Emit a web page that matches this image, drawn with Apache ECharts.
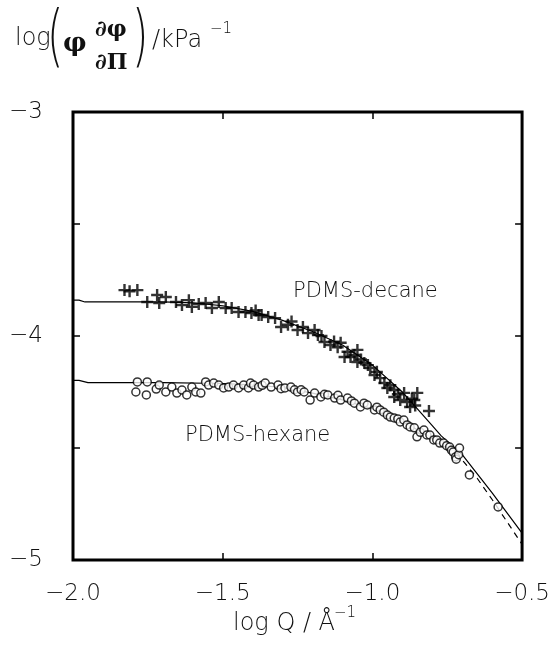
<!DOCTYPE html>
<html>
<head>
<meta charset="utf-8">
<script src="https://cdn.jsdelivr.net/npm/echarts@6/dist/echarts.min.js"></script>
<style>
html,body{margin:0;padding:0;background:#fff;}
#c{width:553px;height:657px;}
</style>
</head>
<body>
<div id="c"></div>
<script>
// ---- data ----
var xTicks = [-2.0, -1.5, -1.0, -0.5];
var yTicks = [-3, -4, -5];

var decaneX = [-1.828,-1.811,-1.785,-1.752,-1.719,-1.712,-1.69,-1.656,-1.636,-1.613,-1.603,-1.58,-1.557,-1.536,-1.513,-1.49,-1.47,-1.447,-1.424,-1.404,-1.39,-1.38,-1.37,-1.348,-1.325,-1.305,-1.282,-1.27,-1.25,-1.232,-1.215,-1.193,-1.182,-1.17,-1.16,-1.14,-1.128,-1.116,-1.106,-1.093,-1.083,-1.073,-1.06,-1.05,-1.05,-1.038,-1.027,-1.015,-1.007,-0.993,-0.985,-0.974,-0.96,-0.95,-0.94,-0.927,-0.927,-0.915,-0.907,-0.894,-0.884,-0.874,-0.868,-0.86,-0.857,-0.85,-0.811];
var decaneY = [-3.795,-3.80,-3.795,-3.848,-3.817,-3.853,-3.826,-3.848,-3.862,-3.84,-3.87,-3.857,-3.853,-3.875,-3.848,-3.875,-3.875,-3.893,-3.893,-3.897,-3.886,-3.906,-3.906,-3.915,-3.92,-3.96,-3.95,-3.935,-3.973,-3.96,-3.987,-3.973,-3.996,-4.0,-4.027,-4.04,-4.025,-4.05,-4.03,-4.094,-4.07,-4.094,-4.085,-4.062,-4.116,-4.105,-4.12,-4.13,-4.143,-4.174,-4.16,-4.188,-4.21,-4.232,-4.22,-4.241,-4.272,-4.26,-4.286,-4.254,-4.295,-4.317,-4.28,-4.286,-4.31,-4.254,-4.335];

var hexaneX = [-1.79,-1.785,-1.755,-1.752,-1.722,-1.712,-1.69,-1.67,-1.653,-1.636,-1.62,-1.603,-1.59,-1.573,-1.557,-1.547,-1.53,-1.513,-1.497,-1.48,-1.464,-1.447,-1.43,-1.414,-1.407,-1.397,-1.38,-1.368,-1.358,-1.338,-1.315,-1.305,-1.292,-1.272,-1.26,-1.25,-1.238,-1.228,-1.208,-1.193,-1.172,-1.16,-1.149,-1.126,-1.115,-1.106,-1.083,-1.07,-1.06,-1.04,-1.028,-1.017,-0.993,-0.985,-0.974,-0.962,-0.95,-0.94,-0.927,-0.915,-0.907,-0.895,-0.884,-0.874,-0.86,-0.851,-0.84,-0.828,-0.818,-0.808,-0.795,-0.785,-0.775,-0.762,-0.752,-0.742,-0.736,-0.73,-0.722,-0.72,-0.712,-0.709,-0.676,-0.58];
var hexaneY = [-4.25,-4.205,-4.263,-4.205,-4.237,-4.219,-4.25,-4.228,-4.255,-4.241,-4.263,-4.228,-4.25,-4.255,-4.205,-4.219,-4.21,-4.219,-4.232,-4.228,-4.219,-4.232,-4.219,-4.232,-4.21,-4.219,-4.228,-4.22,-4.21,-4.228,-4.219,-4.235,-4.232,-4.228,-4.24,-4.25,-4.24,-4.25,-4.286,-4.255,-4.272,-4.26,-4.263,-4.277,-4.265,-4.286,-4.277,-4.29,-4.3,-4.317,-4.3,-4.308,-4.33,-4.318,-4.33,-4.34,-4.353,-4.362,-4.366,-4.37,-4.384,-4.375,-4.397,-4.406,-4.41,-4.45,-4.43,-4.42,-4.442,-4.442,-4.464,-4.464,-4.478,-4.478,-4.49,-4.496,-4.51,-4.518,-4.54,-4.55,-4.53,-4.5,-4.62,-4.763];

var decaneFitX = [-2.0,-1.98,-1.96,-1.7,-1.6,-1.5,-1.4,-1.3,-1.2,-1.1,-1.0,-0.9,-0.86,-0.8,-0.77,-0.7,-0.6,-0.5];
var decaneFitY = [-3.84,-3.84,-3.848,-3.848,-3.852,-3.865,-3.89,-3.93,-3.98,-4.04,-4.13,-4.25,-4.31,-4.40,-4.446,-4.53,-4.70,-4.88];

var hexaneFitX = [-2.0,-1.98,-1.95,-1.7,-1.5,-1.4,-1.3,-1.2,-1.1,-1.0,-0.9,-0.8,-0.77,-0.72];
var hexaneFitY = [-4.198,-4.198,-4.208,-4.208,-4.212,-4.218,-4.23,-4.255,-4.285,-4.325,-4.382,-4.455,-4.47,-4.52];

var hexaneExtX = [-0.72,-0.65,-0.6,-0.55,-0.5];
var hexaneExtY = [-4.52,-4.635,-4.73,-4.83,-4.93];

function pairs(xs, ys){ return xs.map(function(x,i){ return [x, ys[i]]; }); }

var FONT = 'DejaVu Sans';
var INK = '#111';
var crossPath = 'path://M4,0 L6,0 L6,4 L10,4 L10,6 L6,6 L6,10 L4,10 L4,6 L0,6 L0,4 L4,4 Z';

function minusFmt(v, d){
  var s = Math.abs(v).toFixed(d);
  return (v < 0 ? '\u2212' : '') + s;
}

var chart = echarts.init(document.getElementById('c'), null, {renderer:'canvas'});
var option = {
  backgroundColor: '#fff',
  animation: false,
  grid: {left:73, top:112, right:26, bottom:97, show:true, borderColor:'#000', borderWidth:3, backgroundColor:'transparent'},
  xAxis: [{
    type:'value', min:-2.0, max:-0.5, interval:0.5,
    axisLine:{show:false}, splitLine:{show:false},
    axisTick:{show:true, inside:true, length:7, lineStyle:{color:'#000', width:1.5}},
    axisLabel:{fontFamily:FONT, fontSize:23, fontWeight:200, color:INK, margin:23,
      formatter:function(v){ return minusFmt(v,1); }}
  },{
    type:'value', position:'top', min:-2.0, max:-0.5, interval:0.5,
    axisLine:{show:false}, splitLine:{show:false}, axisLabel:{show:false},
    axisTick:{show:true, inside:true, length:7, lineStyle:{color:'#000', width:1.5}}
  }],
  yAxis: [{
    type:'value', min:-5, max:-3, interval:0.5,
    axisLine:{show:false}, splitLine:{show:false},
    axisTick:{show:true, inside:true, length:7, lineStyle:{color:'#000', width:1.5}},
    axisLabel:{fontFamily:FONT, fontSize:23, fontWeight:200, color:INK, margin:30,
      formatter:function(v){ return (Math.abs(v - Math.round(v)) < 1e-9) ? minusFmt(v,0) : ''; }}
  },{
    type:'value', position:'right', min:-5, max:-3, interval:0.5,
    axisLine:{show:false}, splitLine:{show:false}, axisLabel:{show:false},
    axisTick:{show:true, inside:true, length:7, lineStyle:{color:'#000', width:1.5}}
  }],
  series: [
    {type:'line', data:pairs(decaneFitX, decaneFitY), showSymbol:false, smooth:false,
      lineStyle:{color:'#000', width:1.2}, z:2},
    {type:'line', data:pairs(hexaneFitX, hexaneFitY), showSymbol:false, smooth:false,
      lineStyle:{color:'#000', width:1.2}, z:2},
    {type:'line', data:pairs(hexaneExtX, hexaneExtY), showSymbol:false, smooth:false,
      lineStyle:{color:'#000', width:1.2, type:[6,5]}, z:2},
    {type:'scatter', name:'PDMS-decane', data:pairs(decaneX, decaneY), symbol:crossPath, symbolSize:12,
      itemStyle:{color:'#000'}, z:4},
    {type:'scatter', name:'PDMS-hexane', data:pairs(hexaneX, hexaneY), symbol:'circle', symbolSize:8,
      itemStyle:{color:'#fff', borderColor:'#000', borderWidth:1.5}, z:3}
  ],
  graphic: [
    // y-axis title: log(φ ∂φ/∂Π)/kPa^-1
    {type:'text', left:15, top:27, style:{text:'log', font:'200 24px "DejaVu Sans"', fill:INK}},
    {type:'text', x:47, y:8, scaleY:1.6, style:{text:'(', font:'200 42px "DejaVu Sans"', fill:INK, textVerticalAlign:'top'}},
    {type:'text', left:63, top:31, style:{text:'\u03c6', font:'bold 26px "DejaVu Serif"', fill:INK}},
    {type:'text', left:95, top:19, style:{text:'\u2202\u03c6', font:'bold 22px "DejaVu Serif"', fill:INK}},
    {type:'text', left:95, top:52, style:{text:'\u2202\u03a0', font:'bold 22px "DejaVu Serif"', fill:INK}},
    {type:'text', x:132, y:8, scaleY:1.6, style:{text:')', font:'200 42px "DejaVu Sans"', fill:INK, textVerticalAlign:'top'}},
    {type:'text', left:152, top:29, style:{text:'/kPa', font:'200 24px "DejaVu Sans"', fill:INK}},
    {type:'text', left:210, top:22, style:{text:'\u22121', font:'200 15px "DejaVu Sans"', fill:INK}},
    // x-axis title: log Q / Å^-1
    {type:'text', left:233, top:612, style:{text:'log Q / \u00c5', font:'200 24px "DejaVu Sans"', fill:INK}},
    {type:'text', left:334, top:606, style:{text:'\u22121', font:'200 15px "DejaVu Sans"', fill:INK}},
    // series labels
    {type:'text', left:293, top:281, style:{text:'PDMS-decane', font:'200 21px "DejaVu Sans"', fill:INK}},
    {type:'text', left:185, top:425, style:{text:'PDMS-hexane', font:'200 21px "DejaVu Sans"', fill:INK}}
  ]
};
chart.setOption(option);
</script>
</body>
</html>
